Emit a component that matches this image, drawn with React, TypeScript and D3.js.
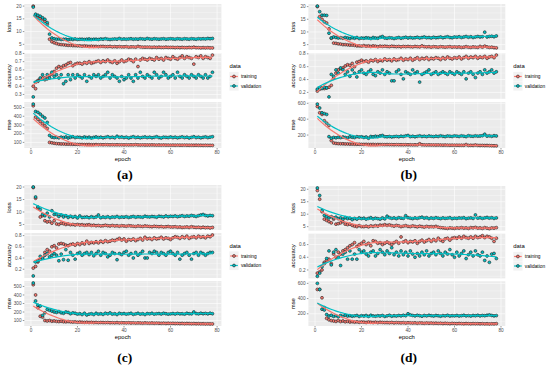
import React from 'react';
import * as d3 from 'd3';

// epochs 1..78, four training runs (a-d), three metrics each
const epochs: number[] = d3.range(1, 79);

const aLossTrain = [20.0,16.2,15.8,15.2,14.8,14.0,12.8,7.0,6.0,5.6, 5.3,5.0,4.9,4.8,4.7,4.6,4.6,4.5,4.5,4.4, 4.4,4.3,4.4,4.3,4.2,4.3,4.2,4.2,4.1,4.2, 4.2,4.1,4.1,4.2,4.0,4.1,4.0,4.1,4.0,4.0, 4.1,3.9,4.0,4.0,3.9,4.2,4.0,3.9,3.9,3.9, 3.9,3.8,3.9,3.8,3.9,3.8,3.8,3.9,3.8,3.8, 3.8,3.7,3.8,3.7,3.8,3.7,3.7,3.8,3.7,3.9, 3.7,3.7,3.6,3.7,3.6,3.7,3.6,3.6];
const aLossVal = [19.6,16.8,16.4,16.0,15.4,14.8,13.5,9.0,7.5,7.2, 7.0,7.1,6.9,7.0,7.0,6.8,7.0,6.9,7.1,6.9, 7.0,7.0,6.9,7.0,7.1,6.9,7.0,7.0,6.9,7.1, 7.0,7.2,7.0,6.9,7.0,7.1,7.0,7.3,7.0,7.1, 7.0,7.1,7.2,7.0,7.1,7.0,7.2,7.1,7.0,7.3, 7.1,7.0,7.2,7.1,7.0,7.1,7.2,7.0,7.1,7.2, 7.1,7.0,7.2,7.1,7.0,7.2,7.1,7.0,7.2,7.1, 7.0,7.2,7.1,7.2,7.1,7.3,7.2,7.3];
const aAccTrain = [0.40,0.37,0.47,0.49,0.50,0.48,0.49,0.53,0.55,0.58, 0.62,0.64,0.63,0.65,0.66,0.68,0.69,0.65,0.67,0.68, 0.68,0.67,0.69,0.68,0.70,0.68,0.69,0.70,0.71,0.69, 0.71,0.70,0.72,0.70,0.69,0.71,0.68,0.70,0.72,0.70, 0.71,0.73,0.72,0.70,0.73,0.64,0.72,0.74,0.73,0.72, 0.74,0.73,0.72,0.75,0.73,0.74,0.72,0.75,0.74,0.73, 0.76,0.74,0.73,0.75,0.77,0.74,0.76,0.75,0.74,0.67, 0.76,0.75,0.77,0.74,0.76,0.75,0.74,0.78];
const aAccVal = [0.27,0.45,0.46,0.50,0.54,0.50,0.54,0.50,0.57,0.52, 0.54,0.50,0.54,0.43,0.46,0.54,0.48,0.54,0.50,0.54, 0.52,0.50,0.54,0.46,0.52,0.50,0.54,0.52,0.54,0.50, 0.52,0.54,0.57,0.50,0.54,0.52,0.50,0.46,0.52,0.48, 0.50,0.54,0.50,0.46,0.54,0.50,0.57,0.52,0.50,0.54, 0.52,0.50,0.57,0.54,0.50,0.52,0.57,0.54,0.50,0.52, 0.54,0.50,0.57,0.52,0.50,0.54,0.52,0.50,0.54,0.52, 0.50,0.54,0.52,0.50,0.54,0.50,0.52,0.57];
const aMseTrain = [520,390,365,340,315,290,260,100,95,90, 86,84,82,82,80,80,79,78,78,77, 76,76,75,75,76,74,74,75,73,74, 73,74,73,72,73,72,73,72,72,71, 72,71,72,71,74,71,70,71,70,70, 70,71,70,69,70,69,70,69,69,68, 69,68,69,68,68,69,68,67,68,67, 68,67,67,66,67,66,66,66];
const aMseVal = [540,455,445,425,400,380,330,180,160,155, 158,152,160,155,162,150,158,165,155,160, 158,152,162,155,160,150,158,163,155,160, 152,158,165,155,160,152,170,158,162,155, 160,150,158,165,155,160,152,158,162,155, 160,153,158,165,155,150,160,158,155,162, 155,160,152,158,163,155,160,150,158,165, 155,160,152,158,163,155,160,165];

const bLossTrain = [20.0,16.0,15.0,14.0,13.5,11.2,7.5,5.6,5.5,5.3, 5.2,5.0,5.0,4.9,4.8,4.8,4.7,4.5,4.5,4.4, 4.6,4.4,4.5,4.3,4.5,4.4,4.2,4.4,4.3,4.4, 4.3,4.2,4.4,4.3,4.2,4.3,4.1,4.3,4.2,4.3, 4.2,4.1,4.3,4.2,4.1,4.5,4.2,4.1,4.2,4.0, 4.2,4.1,4.0,4.2,4.1,4.0,4.1,4.2,4.0,4.1, 4.0,4.1,3.9,4.0,4.2,4.0,3.9,4.1,4.0,3.9, 4.3,4.0,4.4,4.1,3.9,4.0,3.8,3.7];
const bLossVal = [20.2,18.0,16.6,16.6,16.5,9.5,7.6,8.0,7.8,7.6, 7.7,7.5,7.8,7.6,7.4,7.7,7.5,7.8,7.4,7.6, 7.5,7.7,7.6,7.4,7.8,7.6,7.5,7.9,8.2,7.6, 7.5,7.7,7.6,7.4,7.6,7.8,7.5,7.7,7.9,7.6, 7.8,7.6,7.7,7.9,7.6,7.8,8.0,7.7,7.8,7.6, 7.9,7.7,7.8,8.0,7.7,7.9,8.1,7.8,7.7,8.0, 7.9,8.1,7.8,8.0,8.2,7.9,8.1,7.8,8.0,8.2, 8.0,8.1,9.9,8.0,8.2,8.3,8.1,8.4];
const bAccTrain = [0.22,0.25,0.27,0.26,0.27,0.28,0.31,0.42,0.50,0.55, 0.57,0.58,0.61,0.63,0.62,0.65,0.60,0.67,0.68,0.70, 0.68,0.69,0.67,0.70,0.69,0.71,0.68,0.70,0.69,0.72, 0.70,0.71,0.69,0.72,0.70,0.71,0.73,0.70,0.72,0.71, 0.73,0.70,0.72,0.74,0.71,0.73,0.72,0.74,0.71,0.73, 0.72,0.74,0.73,0.71,0.74,0.72,0.75,0.73,0.72,0.74, 0.73,0.75,0.72,0.74,0.76,0.73,0.75,0.74,0.76,0.73, 0.75,0.74,0.76,0.73,0.75,0.76,0.74,0.78];
const bAccVal = [0.25,0.27,0.26,0.28,0.27,0.13,0.48,0.45,0.55,0.50, 0.58,0.55,0.48,0.52,0.45,0.55,0.50,0.44,0.52,0.55, 0.50,0.48,0.52,0.55,0.48,0.46,0.52,0.50,0.55,0.48, 0.52,0.50,0.38,0.38,0.52,0.55,0.48,0.41,0.52,0.50, 0.48,0.55,0.50,0.52,0.36,0.48,0.50,0.52,0.55,0.48, 0.50,0.52,0.48,0.50,0.52,0.50,0.48,0.52,0.50,0.48, 0.52,0.50,0.48,0.52,0.41,0.50,0.52,0.48,0.43,0.50, 0.52,0.48,0.55,0.50,0.52,0.55,0.50,0.52];
const bMseTrain = [560,480,460,380,350,320,130,100,95,92, 90,90,88,88,86,86,85,84,84,83, 82,83,82,81,82,80,81,80,80,79, 80,79,79,78,79,78,78,77,78,77, 77,76,77,76,90,78,76,75,76,75, 75,74,75,74,73,74,73,72,73,72, 72,71,72,71,80,70,71,70,75,70, 69,70,68,69,67,66,65,64];
const bMseVal = [590,540,480,470,460,180,160,170,165,172, 168,175,170,165,178,172,168,180,175,178, 170,175,160,182,178,185,180,190,195,180, 178,182,176,180,184,178,186,182,190,195, 180,185,178,184,190,182,186,180,188,184, 180,186,182,190,184,180,188,185,182,190, 186,182,190,185,180,192,186,184,190,186, 188,192,210,186,190,184,192,188];

const cLossTrain = [19.8,15.5,11.5,8.0,8.5,6.5,6.0,6.2,5.5,6.5, 5.2,5.0,5.5,5.3,5.0,5.2,4.9,5.0,4.8,5.0, 4.8,4.9,4.7,4.8,4.9,4.6,4.7,4.5,4.6,4.4, 4.5,4.7,4.5,4.4,4.6,4.4,4.5,4.3,4.5,4.4, 4.3,4.5,4.4,4.3,4.2,4.4,4.3,4.2,4.4,4.3, 4.2,4.1,4.3,4.2,4.1,4.2,4.0,4.1,4.2,4.0, 4.0,4.1,3.9,4.0,3.8,3.9,4.0,3.8,4.1,3.9, 3.8,3.9,3.7,3.9,3.7,3.8,3.6,3.8];
const cLossVal = [20.0,16.0,12.0,11.0,9.0,8.5,9.5,8.0,10.5,9.0, 9.0,8.2,8.8,8.0,8.5,7.8,8.3,7.9,8.2,7.6, 8.4,7.8,7.9,8.0,7.7,8.1,7.8,8.0,8.8,7.7, 8.0,7.8,8.1,7.7,8.0,7.9,8.2,7.8,8.0,7.9, 8.1,7.8,8.0,8.2,7.9,8.1,8.0,7.9,8.3,8.1, 8.0,8.2,8.1,7.9,8.3,8.2,8.0,8.4,8.1,8.3, 8.2,8.4,8.1,8.3,8.5,8.2,8.4,8.3,8.6,8.4, 8.2,8.5,8.8,9.0,8.6,8.4,8.6,8.5];
const cAccTrain = [0.22,0.25,0.33,0.38,0.40,0.50,0.55,0.52,0.60,0.62, 0.58,0.65,0.66,0.65,0.63,0.62,0.64,0.65,0.63,0.66, 0.64,0.67,0.65,0.70,0.66,0.68,0.67,0.69,0.67,0.70, 0.68,0.71,0.69,0.70,0.72,0.71,0.73,0.75,0.72,0.74, 0.70,0.73,0.72,0.74,0.71,0.73,0.75,0.72,0.77,0.74, 0.75,0.73,0.76,0.74,0.75,0.77,0.74,0.76,0.75,0.73, 0.76,0.78,0.77,0.75,0.78,0.76,0.79,0.75,0.77,0.78, 0.76,0.79,0.77,0.78,0.76,0.79,0.78,0.81];
const cAccVal = [0.08,0.33,0.35,0.43,0.40,0.45,0.48,0.42,0.45,0.48, 0.45,0.35,0.47,0.37,0.55,0.36,0.50,0.45,0.38,0.48, 0.50,0.45,0.48,0.50,0.46,0.50,0.44,0.48,0.52,0.45, 0.50,0.48,0.42,0.45,0.50,0.48,0.37,0.48,0.46,0.50, 0.52,0.45,0.48,0.40,0.50,0.45,0.48,0.52,0.40,0.40, 0.50,0.48,0.52,0.50,0.45,0.50,0.48,0.45,0.50,0.52, 0.48,0.45,0.50,0.38,0.45,0.48,0.50,0.45,0.38,0.48, 0.50,0.45,0.50,0.48,0.45,0.48,0.50,0.50];
const cMseTrain = [520,400,250,150,140,100,95,100,92,95, 90,88,92,86,85,88,84,82,84,80, 82,80,78,80,77,79,76,78,75,77, 76,75,77,74,75,73,76,72,74,73, 72,74,71,73,70,72,71,69,72,70, 69,71,68,70,68,67,69,66,68,66, 67,65,66,64,66,63,65,64,62,64, 62,63,61,62,60,61,60,60];
const cMseVal = [540,330,280,270,160,190,230,220,210,200, 195,205,190,185,200,195,180,190,185,175, 180,170,185,165,175,180,170,185,175,180, 172,185,178,190,175,180,170,185,178,182, 175,180,185,172,178,185,175,180,170,182, 178,185,175,180,182,176,185,180,175,178, 182,176,184,178,180,175,185,180,178,200, 182,178,186,180,184,178,186,180];

const dLossTrain = [19.5,16.0,11.0,8.0,7.5,7.0,6.5,8.0,6.0,6.2, 6.5,7.0,6.0,5.8,6.0,5.5,5.2,5.0,5.4,5.0, 5.0,5.2,4.9,5.3,5.1,5.4,5.2,5.6,5.5,5.8, 5.5,5.7,5.4,5.2,5.5,5.3,5.0,5.2,5.4,5.1, 5.0,5.3,5.1,4.9,5.2,5.0,4.8,5.1,4.9,5.0, 4.9,5.1,4.8,4.6,4.5,4.4,4.3,4.5,4.4,4.3, 4.5,4.4,4.6,4.4,4.5,4.3,4.6,4.5,4.7,4.4, 4.5,4.3,4.6,4.4,4.2,4.5,4.4,4.6];
const dLossVal = [20.5,17.5,11.5,9.5,9.0,8.5,9.0,8.5,8.8,8.2, 8.5,8.0,8.6,8.2,8.4,7.8,8.3,8.0,8.5,8.2, 8.4,8.0,8.3,8.6,8.1,8.4,8.2,8.0,8.5,8.1, 9.2,8.6,8.3,8.5,8.2,8.6,8.4,8.3,9.4,8.6, 8.4,8.2,8.5,8.3,8.6,8.8,8.4,8.6,8.2,8.5, 8.3,8.6,8.4,8.2,8.5,8.3,8.4,8.6,8.2,8.4, 8.3,8.5,8.4,8.6,8.2,8.4,8.5,8.3,9.7,8.4, 8.6,8.3,8.5,8.7,8.4,8.6,8.3,8.5];
const dAccTrain = [0.15,0.17,0.20,0.32,0.35,0.37,0.30,0.45,0.40,0.48, 0.45,0.50,0.52,0.55,0.58,0.60,0.63,0.57,0.60,0.62, 0.65,0.60,0.62,0.58,0.66,0.65,0.62,0.63,0.60,0.62, 0.64,0.62,0.60,0.63,0.65,0.62,0.72,0.64,0.66,0.63, 0.65,0.64,0.66,0.62,0.65,0.67,0.64,0.66,0.68,0.65, 0.68,0.66,0.70,0.67,0.65,0.69,0.70,0.67,0.70,0.71, 0.70,0.72,0.70,0.73,0.71,0.70,0.72,0.70,0.73,0.71, 0.72,0.74,0.71,0.73,0.72,0.70,0.65,0.70];
const dAccVal = [0.10,0.15,0.25,0.30,0.38,0.50,0.28,0.48,0.52,0.40, 0.27,0.45,0.48,0.37,0.50,0.37,0.45,0.37,0.52,0.48, 0.50,0.45,0.42,0.48,0.50,0.42,0.46,0.52,0.48,0.44, 0.50,0.46,0.55,0.44,0.48,0.42,0.50,0.44,0.48,0.42, 0.50,0.45,0.40,0.46,0.42,0.48,0.44,0.50,0.42,0.46, 0.48,0.44,0.50,0.46,0.42,0.48,0.45,0.52,0.44,0.40, 0.48,0.42,0.46,0.50,0.38,0.44,0.48,0.42,0.50,0.44, 0.42,0.48,0.35,0.42,0.32,0.45,0.46,0.38];
const dMseTrain = [520,520,410,280,140,120,110,105,100,110, 98,105,95,100,92,96,90,94,88,92, 90,86,92,88,85,90,84,88,86,84, 85,82,86,80,84,82,80,83,78,82, 80,78,81,76,80,78,75,79,76,78, 75,77,74,76,72,75,73,70,74,72, 70,73,71,69,72,70,68,71,69,70, 68,70,67,69,66,68,67,70];
const dMseVal = [600,520,260,250,190,170,180,165,175,160, 178,165,182,170,175,168,172,178,165,175, 170,178,165,180,172,168,175,170,178,165, 172,180,168,175,170,178,172,180,175,200, 185,178,172,180,175,168,178,172,180,175, 170,178,174,168,176,172,180,170,175,172, 178,170,175,180,172,176,170,178,174,180, 172,178,175,180,185,178,172,176];

// tick labels per panel and metric
const lossTicks = [5, 10, 15, 20];
const accTicksA = [0.3, 0.4, 0.5, 0.6, 0.7, 0.8];
const accTicksBC = [0.2, 0.4, 0.6, 0.8];
const accTicksD = [0.2, 0.4, 0.6];
const mseTicksAC = [100, 200, 300, 400, 500];
const mseTicksBD = [200, 400, 600];
const epochTicks = [0, 20, 40, 60, 80];

const metricNames = ['loss', 'accuracy', 'mse'];
const seriesNames = ['training', 'validation'];
const colors = ['#F8766D', '#00BFC4'];

const panels = [
  { label: 'a', ox: 0, oy: 0, left: 24.3, right: 221.4, top: 4, bottom: 148,
    series: [[aLossTrain, aLossVal], [aAccTrain, aAccVal], [aMseTrain, aMseVal]], ticks: [lossTicks, accTicksA, mseTicksAC] },
  { label: 'b', ox: 275, oy: 0, left: 33.4, right: 230.3, top: 4, bottom: 148,
    series: [[bLossTrain, bLossVal], [bAccTrain, bAccVal], [bMseTrain, bMseVal]], ticks: [lossTicks, accTicksBC, mseTicksBD] },
  { label: 'c', ox: 0, oy: 183, left: 24.3, right: 221.4, top: 2, bottom: 143,
    series: [[cLossTrain, cLossVal], [cAccTrain, cAccVal], [cMseTrain, cMseVal]], ticks: [lossTicks, accTicksBC, mseTicksAC] },
  { label: 'd', ox: 275, oy: 183, left: 33.4, right: 230.3, top: 3, bottom: 143,
    series: [[dLossTrain, dLossVal], [dAccTrain, dAccVal], [dMseTrain, dMseVal]], ticks: [lossTicks, accTicksD, mseTicksBD] },
];

// local quadratic regression (like geom_smooth's loess, span 0.75)
function loess(xs: number[], ys: number[], span = 0.75): [number, number][] {
  const n = xs.length;
  const q = Math.floor(n * span);
  const grid = d3.range(80).map(i => xs[0] + (xs[n - 1] - xs[0]) * i / 79);
  return grid.map(x0 => {
    const dist = xs.map(x => Math.abs(x - x0));
    const h = [...dist].sort((a, b) => a - b)[q - 1];
    const S = [0, 0, 0, 0, 0];
    const T = [0, 0, 0];
    for (let i = 0; i < n; i++) {
      const u = dist[i] / h;
      if (u >= 1) continue;
      const w = Math.pow(1 - u * u * u, 3);
      const dx = xs[i] - x0;
      let p = 1;
      for (let k = 0; k < 5; k++) {
        S[k] += w * p;
        if (k < 3) T[k] += w * p * ys[i];
        p *= dx;
      }
    }
    const det3 = (m: number[][]) =>
      m[0][0] * (m[1][1] * m[2][2] - m[1][2] * m[2][1]) -
      m[0][1] * (m[1][0] * m[2][2] - m[1][2] * m[2][0]) +
      m[0][2] * (m[1][0] * m[2][1] - m[1][1] * m[2][0]);
    const M = [[S[0], S[1], S[2]], [S[1], S[2], S[3]], [S[2], S[3], S[4]]];
    const M0 = [[T[0], S[1], S[2]], [T[1], S[2], S[3]], [T[2], S[3], S[4]]];
    return [x0, det3(M0) / det3(M)];
  });
}

const fmt = (v: number) => (Math.abs(v) < 1 ? d3.format('.1f')(v) : String(v));

function Panel({ p }: { p: typeof panels[number] }) {
  const gap = 3;
  const fh = (p.bottom - p.top - 2 * gap) / 3;
  const xDom = d3.extent(epochs) as [number, number];
  const xPad = (xDom[1] - xDom[0]) * 0.05;
  const x = d3.scaleLinear().domain([xDom[0] - xPad, xDom[1] + xPad]).range([p.left, p.right]);
  const xMinor = [10, 30, 50, 70];
  const cx = (p.left + p.right) / 2;
  const mid = (p.top + p.bottom) / 2;

  return (
    <g transform={`translate(${p.ox},${p.oy})`}>
      {metricNames.map((m, mi) => {
        const y0 = p.top + mi * (fh + gap);
        const y1 = y0 + fh;
        const pair = p.series[mi];
        const smooths = pair.map(s => loess(epochs, s));
        const all = [...pair[0], ...pair[1], ...smooths[0].map(d => d[1]), ...smooths[1].map(d => d[1])];
        const [lo, hi] = d3.extent(all) as [number, number];
        const pad = (hi - lo) * 0.05;
        const y = d3.scaleLinear().domain([lo - pad, hi + pad]).range([y1, y0]);
        const ticks = p.ticks[mi];
        const step = ticks[1] - ticks[0];
        const minor = d3.range(ticks[0] - step / 2, hi + pad, step).filter(v => v > lo - pad && v < hi + pad);
        const line = d3.line<[number, number]>().x(d => x(d[0])).y(d => y(d[1]));
        return (
          <g key={m}>
            <rect x={p.left} y={y0} width={p.right - p.left} height={fh} fill="#EBEBEB" />
            {minor.map(v => (
              <line key={'ym' + v} x1={p.left} x2={p.right} y1={y(v)} y2={y(v)} stroke="#fff" strokeWidth={0.3} />
            ))}
            {xMinor.map(v => (
              <line key={'xm' + v} x1={x(v)} x2={x(v)} y1={y0} y2={y1} stroke="#fff" strokeWidth={0.3} />
            ))}
            {ticks.map(v => (
              <line key={'y' + v} x1={p.left} x2={p.right} y1={y(v)} y2={y(v)} stroke="#fff" strokeWidth={0.6} />
            ))}
            {epochTicks.map(v => (
              <line key={'x' + v} x1={x(v)} x2={x(v)} y1={y0} y2={y1} stroke="#fff" strokeWidth={0.6} />
            ))}
            {pair.map((s, si) =>
              s.map((v, i) => (
                <circle key={si + '-' + i} cx={x(epochs[i])} cy={y(v)} r={1.45}
                  fill={colors[si]} stroke="#222" strokeWidth={0.6} />
              ))
            )}
            {smooths.map((s, si) => (
              <path key={'s' + si} d={line(s) as string} fill="none" stroke={colors[si]} strokeWidth={1.2} />
            ))}
            {ticks.map(v => (
              <g key={'t' + v}>
                <line x1={p.left - 1.5} x2={p.left} y1={y(v)} y2={y(v)} stroke="#333" strokeWidth={0.5} />
                <text x={p.left - 2.8} y={y(v)} dy="0.35em" textAnchor="end" fontSize={4.7} fill="#4D4D4D">{fmt(v)}</text>
              </g>
            ))}
            <text transform={`translate(${p.left - 15.5},${(y0 + y1) / 2}) rotate(-90)`} textAnchor="middle"
              dy="0.35em" fontSize={5.9} fill="#000">{m}</text>
          </g>
        );
      })}
      {epochTicks.map(v => (
        <g key={'et' + v}>
          <line x1={x(v)} x2={x(v)} y1={p.bottom} y2={p.bottom + 1.5} stroke="#333" strokeWidth={0.5} />
          <text x={x(v)} y={p.bottom + 6.3} textAnchor="middle" fontSize={4.7} fill="#4D4D4D">{v}</text>
        </g>
      ))}
      <text x={cx} y={p.bottom + 12.5} textAnchor="middle" fontSize={5.9} fill="#000">epoch</text>
      <g transform={`translate(${p.right + 8},${mid})`}>
        <text x={0} y={-10} dy="0.35em" fontSize={5.9} fill="#000">data</text>
        {seriesNames.map((s, si) => (
          <g key={s} transform={`translate(0,${0.5 + si * 9.5})`}>
            <rect x={0} y={-4.6} width={9.2} height={9.2} fill="#F2F2F2" />
            <line x1={0.8} x2={8.4} y1={0} y2={0} stroke={colors[si]} strokeWidth={1.2} />
            <circle cx={4.6} cy={0} r={1.45} fill={colors[si]} stroke="#222" strokeWidth={0.6} />
            <text x={11.5} y={0} dy="0.35em" fontSize={4.8} fill="#000">{s}</text>
          </g>
        ))}
      </g>
      <text x={cx + 2} y={179} textAnchor="middle" fontFamily="'Liberation Serif', 'DejaVu Serif', serif"
        fontWeight="bold" fontSize={13.5} fill="#000">({p.label})</text>
    </g>
  );
}

export default function App() {
  return (
    <svg width={550} height={366} viewBox="0 0 550 366"
      style={{ position: 'absolute', left: 0, top: 0, background: '#fff' }}
      fontFamily="'Liberation Sans', Arial, sans-serif">
      <rect width={550} height={366} fill="#fff" />
      {panels.map(p => <Panel key={p.label} p={p} />)}
    </svg>
  );
}
